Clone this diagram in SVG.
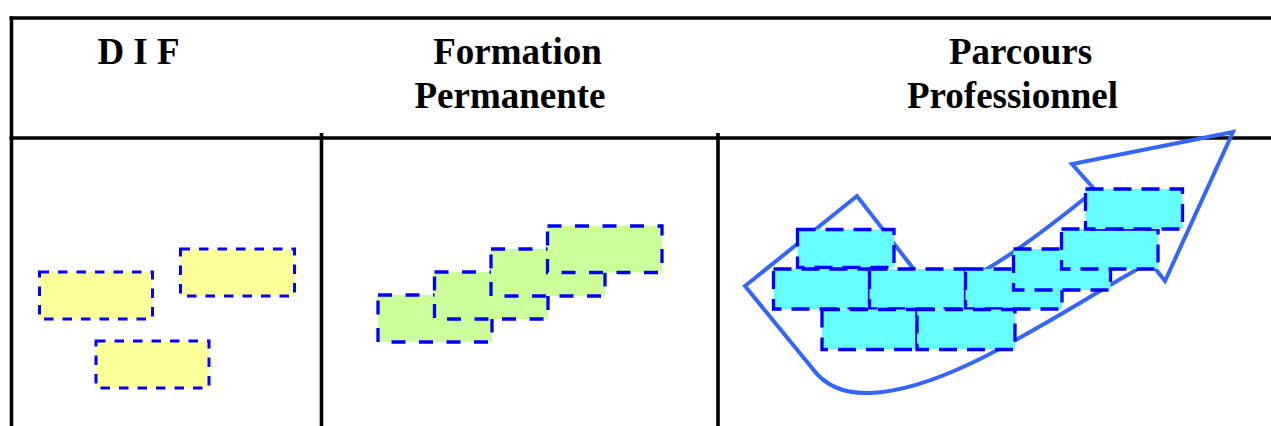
<svg xmlns="http://www.w3.org/2000/svg" width="1271" height="426" viewBox="0 0 1271 426">
  <style>
    .grid { stroke: #000000; stroke-width: 3.6; fill: none; }
    .head { font-family: "Liberation Serif", "Times New Roman", serif; font-weight: bold; font-size: 37px; fill: #000000; text-anchor: middle; }
    .dif { fill: #FFFF99; stroke: #0000FF; stroke-width: 3; stroke-dasharray: 9.5 9; }
    .perm { fill: #CCFF99; stroke: #0000FF; stroke-width: 3.3; stroke-dasharray: 14 13.5; }
    .brick { fill: #66FFFF; stroke: #0000FF; stroke-width: 3.3; stroke-dasharray: 18 10; }
    .arrow { fill: none; stroke: #3366FF; stroke-width: 4; stroke-linejoin: miter; }
  </style>

  <rect width="1271" height="426" fill="#FFFFFF"/>

  <!-- table frame: top edge, left edge, header rule and column separators -->
  <g id="table">
    <line class="grid" x1="9.5" y1="18" x2="1271" y2="18"/>
    <line class="grid" x1="11.5" y1="16.2" x2="11.5" y2="426"/>
    <line class="grid" x1="9.5" y1="138" x2="1271" y2="138"/>
    <line class="grid" x1="321.5" y1="133" x2="321.5" y2="426"/>
    <line class="grid" x1="718" y1="133" x2="718" y2="426"/>
  </g>

  <!-- column headings -->
  <g id="heading-dif">
    <text class="head" x="138.5" y="64">D I F</text>
  </g>
  <g id="heading-formation">
    <text class="head" x="517.5" y="64">Formation</text>
    <text class="head" x="510" y="108">Permanente</text>
  </g>
  <g id="heading-parcours">
    <text class="head" x="1020.5" y="64">Parcours</text>
    <text class="head" x="1012.5" y="108">Professionnel</text>
  </g>

  <!-- DIF: scattered blocks -->
  <g id="dif-blocks">
    <rect id="dif-1" class="dif" x="39.5" y="272" width="113" height="47"/>
    <rect id="dif-2" class="dif" x="180.5" y="249" width="114" height="47"/>
    <rect id="dif-3" class="dif" x="96" y="341" width="113" height="47"/>
  </g>

  <!-- Formation permanente: staircase of blocks -->
  <g id="perm-blocks">
    <rect id="perm-1" class="perm" x="378" y="295" width="114" height="47"/>
    <rect id="perm-2" class="perm" x="434.5" y="272" width="113.5" height="47"/>
    <rect id="perm-3" class="perm" x="491" y="249" width="114" height="47"/>
    <rect id="perm-4" class="perm" x="547.5" y="226" width="114.5" height="46.5"/>
  </g>

  <!-- Parcours professionnel: rising arrow outline -->
  <g id="connectors">
    <path id="rising-arrow" class="arrow"
          d="M 745 286 L 857 196 L 930 290 C 965 288 1015 255 1095 190 L 1072 164 L 1233 132 L 1165 281 L 1150 262 C 1050 318 950 390 870 393 C 840 394 822 382 812 368 Z"/>
  </g>

  <!-- Parcours professionnel: wall of bricks -->
  <g id="parcours-blocks">
    <rect id="brick-1" class="brick" x="797.5" y="229.5" width="96.5" height="38"/>
    <rect id="brick-2" class="brick" x="773.5" y="269" width="96" height="40"/>
    <rect id="brick-3" class="brick" x="869.5" y="269" width="96" height="40"/>
    <rect id="brick-4" class="brick" x="965.5" y="269" width="96.5" height="40"/>
    <rect id="brick-5" class="brick" x="822" y="309.5" width="95" height="40"/>
    <rect id="brick-6" class="brick" x="917" y="309.5" width="98" height="40"/>
    <rect id="brick-7" class="brick" x="1013.5" y="249" width="97" height="41"/>
    <rect id="brick-8" class="brick" x="1061.5" y="229" width="96.5" height="40"/>
    <rect id="brick-9" class="brick" x="1085.5" y="189" width="97" height="40"/>
  </g>
</svg>
